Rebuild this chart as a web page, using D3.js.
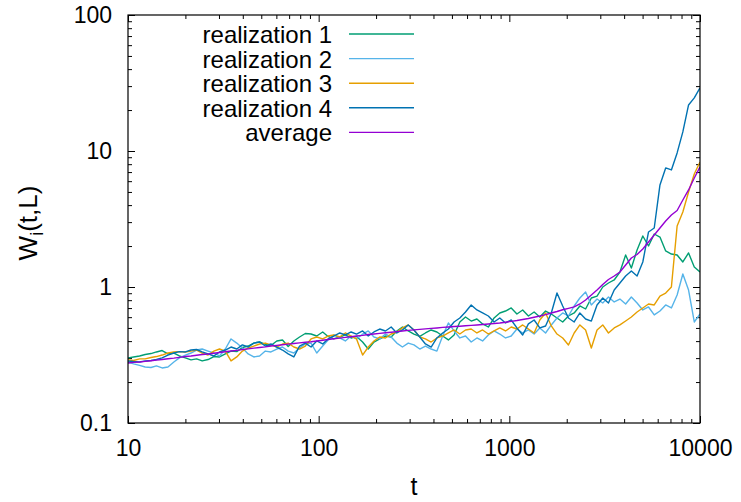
<!DOCTYPE html>
<html>
<head>
<meta charset="utf-8">
<script src="https://cdn.jsdelivr.net/npm/d3@7"></script>
<style>
  body { margin: 0; background: #fff; }
  svg { display: block; }
  text { font-family: "Liberation Sans", Arial, Helvetica, sans-serif; fill: #000; }
</style>
</head>
<body>
<svg id="chart" width="741" height="502"></svg>
<script>
// time points (shared by all series)
const t = [10,10.7,11.5,12.3,13.2,14.1,15.1,16.2,17.4,18.6,
  20,21.4,22.9,24.5,26.3,28.2,30.2,32.4,34.7,37.2,
  39.8,42.7,45.7,49,52.5,56.2,60.3,64.6,69.2,74.1,
  79.4,85.1,91.2,97.7,105,112,120,129,138,148,
  158,170,182,195,209,224,240,257,275,295,
  316,339,363,389,417,447,479,513,550,589,
  631,676,724,776,832,891,955,1023,1096,1175,
  1259,1349,1445,1549,1660,1778,1905,2042,2188,2344,
  2512,2692,2884,3090,3311,3548,3802,4074,4365,4677,
  5012,5370,5754,6166,6607,7079,7586,8128,8710,9333,
  10000];

const realization1 = [0.301,0.306,0.311,0.319,0.324,0.333,0.341,0.322,0.327,0.311,
  0.301,0.291,0.296,0.286,0.293,0.308,0.306,0.322,0.338,0.335,
  0.359,0.368,0.387,0.394,0.378,0.371,0.401,0.408,0.365,0.401,
  0.429,0.455,0.451,0.436,0.467,0.433,0.415,0.429,0.444,0.422,
  0.433,0.394,0.350,0.394,0.415,0.436,0.429,0.475,0.508,0.475,
  0.451,0.433,0.459,0.483,0.467,0.436,0.408,0.444,0.553,0.602,
  0.562,0.582,0.535,0.508,0.592,0.644,0.666,0.701,0.633,0.678,
  0.612,0.655,0.602,0.666,0.633,0.592,0.553,0.612,0.644,0.725,
  0.689,0.830,0.858,1.000,1.070,1.126,1.289,1.719,1.379,1.871,
  2.372,2.002,2.453,2.33,1.84,1.748,1.719,1.527,1.78,1.403,
  1.289];

const realization2 = [0.281,0.272,0.265,0.258,0.256,0.263,0.254,0.258,0.281,0.301,
  0.316,0.327,0.344,0.350,0.338,0.327,0.311,0.350,0.415,0.387,
  0.356,0.322,0.306,0.311,0.338,0.333,0.350,0.362,0.338,0.327,
  0.356,0.381,0.387,0.327,0.368,0.408,0.444,0.422,0.401,0.436,
  0.415,0.451,0.475,0.429,0.415,0.451,0.429,0.387,0.362,0.387,
  0.375,0.350,0.368,0.350,0.338,0.436,0.544,0.475,0.422,0.436,
  0.394,0.422,0.401,0.444,0.475,0.451,0.422,0.436,0.491,0.459,
  0.483,0.451,0.500,0.459,0.526,0.592,0.644,0.612,0.725,0.830,
  0.919,0.738,0.816,0.763,0.844,0.776,0.816,0.750,0.844,0.763,
  0.678,0.713,0.623,0.666,0.738,0.701,0.873,1.246,0.950,0.553,
  0.633];

const realization3 = [0.291,0.288,0.296,0.296,0.303,0.308,0.316,0.327,0.333,0.335,
  0.333,0.338,0.344,0.327,0.316,0.338,0.350,0.338,0.286,0.306,
  0.338,0.356,0.368,0.381,0.387,0.375,0.362,0.381,0.387,0.362,
  0.350,0.368,0.415,0.429,0.415,0.436,0.444,0.429,0.459,0.436,
  0.415,0.316,0.362,0.401,0.429,0.422,0.451,0.467,0.500,0.526,
  0.483,0.429,0.415,0.394,0.422,0.436,0.459,0.483,0.451,0.483,
  0.491,0.459,0.483,0.451,0.475,0.500,0.475,0.508,0.491,0.526,
  0.491,0.459,0.572,0.644,0.517,0.451,0.422,0.375,0.459,0.526,
  0.483,0.356,0.483,0.526,0.459,0.500,0.526,0.562,0.602,0.655,
  0.701,0.750,0.738,0.858,0.903,1.000,2.809,3.561,4.997,6.779,
  8.308];

const realization4 = [0.286,0.283,0.281,0.286,0.288,0.293,0.301,0.316,0.327,0.335,
  0.333,0.344,0.347,0.333,0.322,0.311,0.333,0.344,0.362,0.350,
  0.375,0.362,0.387,0.394,0.368,0.381,0.362,0.344,0.322,0.306,
  0.368,0.387,0.362,0.401,0.381,0.415,0.436,0.459,0.444,0.467,
  0.451,0.475,0.436,0.467,0.491,0.475,0.508,0.459,0.483,0.526,
  0.483,0.429,0.381,0.362,0.422,0.459,0.491,0.553,0.592,0.655,
  0.738,0.678,0.644,0.612,0.553,0.592,0.544,0.572,0.500,0.444,
  0.535,0.572,0.500,0.517,0.644,0.903,0.725,0.592,0.553,0.644,
  0.582,0.562,0.738,0.830,0.763,0.950,1.070,1.205,1.311,1.205,
  1.527,2.538,2.716,5.63,7.505,7.255,9.68,13.81,21.8,24.58,
  29.12];

const average = [0.276,0.279,0.281,0.284,0.287,0.290,0.293,0.297,0.300,0.304,
  0.308,0.311,0.315,0.319,0.322,0.326,0.330,0.334,0.338,0.342,
  0.347,0.351,0.355,0.359,0.363,0.368,0.372,0.376,0.380,0.384,
  0.388,0.392,0.396,0.401,0.406,0.411,0.416,0.421,0.426,0.431,
  0.436,0.441,0.447,0.451,0.456,0.461,0.465,0.470,0.475,0.480,
  0.484,0.488,0.492,0.496,0.500,0.505,0.508,0.512,0.515,0.519,
  0.522,0.526,0.530,0.535,0.539,0.544,0.551,0.559,0.567,0.577,
  0.587,0.599,0.612,0.627,0.644,0.660,0.680,0.697,0.715,0.750,
  0.803,0.873,0.950,1.043,1.135,1.205,1.289,1.451,1.634,1.734,
  1.903,2.142,2.412,2.716,3.058,3.385,3.653,4.364,5.170,6.335,
  7.634];

const seriesNames = ["realization 1", "realization 2", "realization 3", "realization 4", "average"];
const seriesValues = [realization1, realization2, realization3, realization4, average];
const seriesColors = ["#009e73", "#56b4e9", "#e69f00", "#0072b2", "#9400d3"];

const xTickValues = [10, 100, 1000, 10000];
const xTickLabels = ["10", "100", "1000", "10000"];
const yTickValues = [0.1, 1, 10, 100];
const yTickLabels = ["0.1", "1", "10", "100"];

const svg = d3.select("#chart");
const plotLeft = 128, plotRight = 700, plotTop = 15, plotBottom = 423;

const x = d3.scaleLog().domain([10, 10000]).range([plotLeft, plotRight]);
const y = d3.scaleLog().domain([0.1, 100]).range([plotBottom, plotTop]);

// minor ticks at 2..9 within each decade
function minors(majors) {
  const out = [];
  majors.slice(0, -1).forEach(d => { for (let m = 2; m <= 9; m++) out.push(d * m); });
  return out;
}
const xMinor = minors(xTickValues);
const yMinor = minors(yTickValues);

function styleAxis(g, size) {
  g.select(".domain").remove();
  g.attr("font-family", null).attr("font-size", null);
  g.selectAll(".tick line").attr("stroke", "#000").attr("stroke-width", 1);
  g.selectAll(".tick text").attr("font-size", size).attr("fill", "#000");
}

// bottom
svg.append("g").attr("transform", `translate(0,${plotBottom})`)
  .call(d3.axisBottom(x).tickValues(xTickValues).tickSizeInner(-7).tickSizeOuter(0)
    .tickPadding(17).tickFormat((d, i) => xTickLabels[i]))
  .call(g => styleAxis(g, 23));
svg.append("g").attr("transform", `translate(0,${plotBottom})`)
  .call(d3.axisBottom(x).tickValues(xMinor).tickSizeInner(-4).tickSizeOuter(0).tickFormat(""))
  .call(g => styleAxis(g, 23));
// top mirror
svg.append("g").attr("transform", `translate(0,${plotTop})`)
  .call(d3.axisTop(x).tickValues(xTickValues).tickSizeInner(-7).tickSizeOuter(0).tickFormat(""))
  .call(g => styleAxis(g, 23));
svg.append("g").attr("transform", `translate(0,${plotTop})`)
  .call(d3.axisTop(x).tickValues(xMinor).tickSizeInner(-4).tickSizeOuter(0).tickFormat(""))
  .call(g => styleAxis(g, 23));
// left
svg.append("g").attr("transform", `translate(${plotLeft},0)`)
  .call(d3.axisLeft(y).tickValues(yTickValues).tickSizeInner(-7).tickSizeOuter(0)
    .tickPadding(16).tickFormat((d, i) => yTickLabels[i]))
  .call(g => styleAxis(g, 23));
svg.append("g").attr("transform", `translate(${plotLeft},0)`)
  .call(d3.axisLeft(y).tickValues(yMinor).tickSizeInner(-4).tickSizeOuter(0).tickFormat(""))
  .call(g => styleAxis(g, 23));
// right mirror
svg.append("g").attr("transform", `translate(${plotRight},0)`)
  .call(d3.axisRight(y).tickValues(yTickValues).tickSizeInner(-7).tickSizeOuter(0).tickFormat(""))
  .call(g => styleAxis(g, 23));
svg.append("g").attr("transform", `translate(${plotRight},0)`)
  .call(d3.axisRight(y).tickValues(yMinor).tickSizeInner(-4).tickSizeOuter(0).tickFormat(""))
  .call(g => styleAxis(g, 23));

// data lines
svg.append("clipPath").attr("id", "plot-clip")
  .append("rect").attr("x", plotLeft).attr("y", plotTop)
  .attr("width", plotRight - plotLeft).attr("height", plotBottom - plotTop);
const line = d3.line().x((d, i) => x(t[i])).y(d => y(d));
const plot = svg.append("g").attr("clip-path", "url(#plot-clip)");
seriesValues.forEach((vals, s) => {
  plot.append("path").datum(vals)
    .attr("fill", "none")
    .attr("stroke", seriesColors[s])
    .attr("stroke-width", 1.4)
    .attr("stroke-linejoin", "round")
    .attr("d", line);
});

// frame
svg.append("rect").attr("x", plotLeft).attr("y", plotTop)
  .attr("width", plotRight - plotLeft).attr("height", plotBottom - plotTop)
  .attr("fill", "none").attr("stroke", "#000").attr("stroke-width", 1.2);

// legend
const legend = svg.append("g");
seriesNames.forEach((name, i) => {
  const yy = 34 + i * 24.6;
  legend.append("text").attr("x", 332).attr("y", yy + 9).attr("text-anchor", "end")
    .attr("font-size", 24).text(name);
  legend.append("line").attr("x1", 349).attr("x2", 414).attr("y1", yy).attr("y2", yy)
    .attr("stroke", seriesColors[i]).attr("stroke-width", 1.4);
});

// axis titles
svg.append("text").attr("x", (plotLeft + plotRight) / 2).attr("y", 495).attr("text-anchor", "middle")
  .attr("font-size", 25).text("t");
const yTitle = svg.append("text").attr("transform", "translate(37,223) rotate(-90)")
  .attr("text-anchor", "middle").attr("font-size", 26);
yTitle.append("tspan").text("W");
yTitle.append("tspan").attr("font-size", 18).attr("dy", 6).text("i");
yTitle.append("tspan").attr("dy", -6).text("(t,L)");
</script>
</body>
</html>
